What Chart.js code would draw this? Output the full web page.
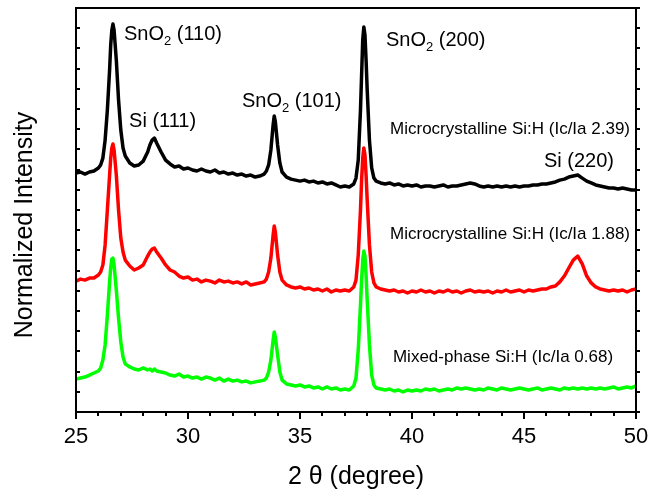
<!DOCTYPE html>
<html>
<head>
<meta charset="utf-8">
<script src="https://cdn.jsdelivr.net/npm/chart.js@4"></script>
<style>
  html, body { margin: 0; padding: 0; background: #fff; }
  #wrap { width: 649px; height: 489px; }
</style>
</head>
<body>
<div id="wrap"><canvas id="xrdChart" width="649" height="489"></canvas></div>
<script>
// 2 theta (degree), shared by the three patterns
const twoTheta = [
    25.0, 25.2, 25.4, 25.6, 25.8, 26.0, 26.1, 26.2, 26.3, 26.4, 26.5, 26.55, 26.6, 26.65, 26.7, 26.8, 26.9, 27.0, 27.1, 27.2,
    27.4, 27.6, 27.8, 28.0, 28.2, 28.3, 28.4, 28.5, 28.6,
    28.8, 29.0, 29.2, 29.4, 29.6, 29.8, 30.0, 30.2, 30.4, 30.6, 30.8, 31.0, 31.2, 31.4, 31.6, 31.8, 32.0, 32.2, 32.4, 32.6, 32.8, 33.0, 33.2, 33.4,
    33.5, 33.6, 33.7, 33.8, 33.85, 33.9, 34.0, 34.1, 34.2,
    34.4, 34.6, 34.8, 35.0, 35.2, 35.4, 35.6, 35.8, 36.0, 36.2, 36.4, 36.6, 36.8, 37.0, 37.2, 37.4,
    37.5, 37.6, 37.7, 37.75, 37.8, 37.85, 37.9, 37.95, 38.0, 38.1, 38.2, 38.3, 38.4,
    38.6, 38.8, 39.0, 39.2, 39.4, 39.6, 39.8, 40.0, 40.2, 40.4, 40.6, 40.8, 41.0, 41.2, 41.4, 41.6, 41.8, 42.0, 42.2, 42.4,
    42.6, 42.8, 43.0, 43.2, 43.4, 43.6, 43.8, 44.0, 44.2, 44.4, 44.6, 44.8, 45.0, 45.2, 45.4, 45.6, 45.8, 46.0, 46.2, 46.4,
    46.6, 46.8, 47.0, 47.2, 47.4, 47.6, 47.8, 48.0, 48.2, 48.4, 48.6, 48.8, 49.0, 49.2, 49.4, 49.6, 49.8, 50.0
];

// Microcrystalline Si:H (Ic/Ia 2.39) - black
const micro239 = [
    11.83, 11.88, 11.78, 11.88, 11.93, 12.08, 12.23, 12.57, 13.46, 14.95, 16.93, 18.17, 18.91, 19.21, 18.91, 17.42, 15.44, 13.96, 13.07, 12.67,
    12.33, 12.18, 12.23, 12.42, 12.87, 13.22, 13.46, 13.56, 13.32,
    12.87, 12.47, 12.28, 12.13, 12.18, 12.03, 12.08, 11.98, 11.93, 12.03, 11.93, 11.88, 11.98, 11.83, 11.88, 11.78, 11.83, 11.73, 11.78, 11.68, 11.73, 11.63, 11.68, 11.78,
    11.93, 12.23, 12.97, 14.21, 14.65, 14.36, 13.22, 12.33, 11.88,
    11.63, 11.53, 11.48, 11.43, 11.48, 11.39, 11.43, 11.34, 11.39, 11.29, 11.34, 11.24, 11.14, 11.19, 11.14, 11.29,
    11.58, 12.47, 14.95, 16.68, 18.41, 19.06, 18.66, 17.42, 15.94, 13.46, 12.08, 11.58, 11.43,
    11.34, 11.29, 11.34, 11.24, 11.29, 11.19, 11.24, 11.19, 11.24, 11.14, 11.19, 11.19, 11.14, 11.19, 11.24, 11.14, 11.19, 11.19, 11.24, 11.29,
    11.34, 11.29, 11.19, 11.14, 11.19, 11.14, 11.19, 11.14, 11.19, 11.14, 11.19, 11.14, 11.19, 11.19, 11.24, 11.24, 11.29, 11.29, 11.34, 11.39,
    11.48, 11.53, 11.63, 11.68, 11.73, 11.58, 11.43, 11.34, 11.24, 11.19, 11.14, 11.09, 11.09, 11.04, 11.09, 11.04, 10.99, 10.99
];

// Microcrystalline Si:H (Ic/Ia 1.88) - red
const micro188 = [
    6.48, 6.58, 6.53, 6.63, 6.63, 6.78, 6.93, 7.28, 8.27, 10.00, 11.73, 12.57, 13.07, 13.27, 12.97, 11.73, 10.00, 8.61, 7.92, 7.52,
    7.23, 7.03, 7.13, 7.28, 7.72, 7.92, 8.07, 8.12, 7.92,
    7.62, 7.28, 7.03, 6.93, 6.73, 6.63, 6.68, 6.53, 6.58, 6.44, 6.53, 6.48, 6.39, 6.53, 6.44, 6.48, 6.39, 6.44, 6.34, 6.44, 6.29, 6.34, 6.39, 6.44,
    6.58, 6.93, 7.62, 8.76, 9.21, 8.91, 7.77, 6.93, 6.53,
    6.29, 6.19, 6.14, 6.19, 6.09, 6.14, 6.04, 6.09, 5.99, 6.09, 5.94, 6.04, 5.99, 6.04, 5.99, 6.19,
    6.53, 7.77, 10.00, 11.48, 12.57, 13.07, 12.72, 11.73, 10.49, 8.27, 6.93, 6.39, 6.19,
    6.09, 6.04, 5.99, 6.04, 5.94, 5.99, 5.89, 5.99, 5.94, 6.04, 5.94, 5.99, 5.89, 5.99, 5.94, 6.04, 5.94, 5.99, 5.89, 5.99,
    6.04, 5.94, 5.99, 5.94, 5.99, 5.89, 5.99, 5.94, 6.04, 5.94, 5.99, 6.04, 5.94, 6.04, 5.99, 6.04, 6.09, 6.09, 6.19, 6.24,
    6.44, 6.73, 7.13, 7.52, 7.72, 7.33, 6.73, 6.39, 6.19, 6.09, 6.04, 5.99, 6.04, 5.99, 6.04, 5.94, 6.04, 6.09
];

// Mixed-phase Si:H (Ic/Ia 0.68) - green
const mixed068 = [
    1.63, 1.68, 1.73, 1.83, 1.93, 2.03, 2.18, 2.57, 3.32, 4.80, 6.44, 7.13, 7.57, 7.62, 7.28, 6.04, 4.65, 3.47, 2.72, 2.38,
    2.23, 2.13, 2.08, 2.18, 2.08, 2.13, 2.03, 2.13, 2.03,
    1.98, 1.93, 1.83, 1.78, 1.88, 1.73, 1.78, 1.68, 1.73, 1.63, 1.73, 1.68, 1.58, 1.68, 1.53, 1.63, 1.53, 1.58, 1.49, 1.53, 1.44, 1.49, 1.53, 1.58,
    1.68, 1.98, 2.57, 3.56, 3.96, 3.71, 2.82, 1.98, 1.58,
    1.39, 1.34, 1.29, 1.34, 1.24, 1.29, 1.19, 1.24, 1.14, 1.24, 1.14, 1.19, 1.09, 1.14, 1.09, 1.29,
    1.68, 3.07, 5.30, 6.53, 7.52, 7.97, 7.72, 6.78, 5.54, 3.32, 1.83, 1.34, 1.19,
    1.14, 1.09, 1.14, 1.04, 1.09, 0.99, 1.09, 1.04, 1.09, 1.04, 1.14, 1.09, 1.14, 1.04, 1.09, 1.14, 1.09, 1.19, 1.14, 1.19,
    1.14, 1.09, 1.14, 1.09, 1.19, 1.14, 1.09, 1.19, 1.14, 1.09, 1.14, 1.19, 1.14, 1.09, 1.14, 1.19, 1.09, 1.14, 1.19, 1.14,
    1.09, 1.19, 1.14, 1.19, 1.14, 1.19, 1.14, 1.19, 1.14, 1.19, 1.14, 1.19, 1.24, 1.14, 1.19, 1.24, 1.19, 1.29
];

const xTicks = [25, 30, 35, 40, 45, 50];

// peak labels: [main, subscript, rest, x, y]
const peakLabels = [
    ["SnO", "2", " (110)", 27.14, 18.42],
    ["Si (111)", "", "", 27.37, 14.11],
    ["SnO", "2", " (101)", 32.41, 15.10],
    ["SnO", "2", " (200)", 38.84, 18.12],
    ["Si (220)", "", "", 45.89, 12.13]
];

const sampleLabels = [
    ["Microcrystalline Si:H (Ic/Ia 2.39)", 39.02, 13.76],
    ["Microcrystalline Si:H (Ic/Ia 1.88)", 39.02, 8.56],
    ["Mixed-phase Si:H (Ic/Ia 0.68)", 39.15, 2.48]
];

[micro239, micro188, mixed068].forEach(s => {
    if (s.length !== twoTheta.length) throw new Error("length mismatch " + s.length + " vs " + twoTheta.length);
});

const FONT = "'Liberation Sans', Arial, sans-serif";

function toPoints(values) {
    return twoTheta.map((x, i) => ({ x: x, y: values[i] }));
}

// frame, tick marks, titles and peak labels
const decorPlugin = {
    id: "decor",
    afterDatasetsDraw(chart) {
        const ctx = chart.ctx;
        const area = chart.chartArea;
        const xs = chart.scales.x;
        const ys = chart.scales.y;
        ctx.save();
        ctx.strokeStyle = "#000";
        ctx.lineWidth = 2;

        // bottom ticks (outward)
        for (let v = 25; v <= 50; v++) {
            const px = Math.round(xs.getPixelForValue(v));
            const len = v % 5 === 0 ? 7 : 4;
            ctx.beginPath();
            ctx.moveTo(px, area.bottom);
            ctx.lineTo(px, area.bottom + len);
            ctx.stroke();
        }
        // left ticks (inward) and right ticks (outward)
        for (let v = 0; v <= 20; v++) {
            const py = Math.round(ys.getPixelForValue(v));
            ctx.beginPath();
            ctx.moveTo(area.left, py);
            ctx.lineTo(area.left + 4, py);
            ctx.moveTo(area.right, py);
            ctx.lineTo(area.right + 4, py);
            ctx.stroke();
        }
        ctx.strokeRect(area.left, area.top, area.right - area.left, area.bottom - area.top);

        // peak labels
        ctx.fillStyle = "#000";
        ctx.textBaseline = "alphabetic";
        ctx.textAlign = "left";
        peakLabels.forEach(([main, sub, rest, x, y]) => {
            let px = xs.getPixelForValue(x);
            const py = ys.getPixelForValue(y);
            ctx.font = "20px " + FONT;
            ctx.fillText(main, px, py);
            px += ctx.measureText(main).width;
            if (sub) {
                ctx.font = "13px " + FONT;
                ctx.fillText(sub, px, py + 5);
                px += ctx.measureText(sub).width;
                ctx.font = "20px " + FONT;
                ctx.fillText(rest, px, py);
            }
        });

        ctx.font = "17px " + FONT;
        sampleLabels.forEach(([text, x, y]) => {
            ctx.fillText(text, xs.getPixelForValue(x), ys.getPixelForValue(y));
        });

        // axis titles
        ctx.textAlign = "center";
        ctx.textBaseline = "middle";
        ctx.font = "25px " + FONT;
        ctx.fillText("2 \u03b8 (degree)", (area.left + area.right) / 2, 477);
        ctx.save();
        ctx.translate(25, 225);
        ctx.rotate(-Math.PI / 2);
        ctx.font = "25px " + FONT;
        ctx.fillText("Normalized Intensity", 0, 0);
        ctx.restore();

        ctx.restore();
    }
};

new Chart(document.getElementById("xrdChart"), {
    type: "line",
    data: {
        datasets: [
            { label: "2.39", data: toPoints(micro239), borderColor: "#000000", order: 3 },
            { label: "1.88", data: toPoints(micro188), borderColor: "#ff0000", order: 2 },
            { label: "0.68", data: toPoints(mixed068), borderColor: "#00ff00", order: 1 }
        ]
    },
    options: {
        responsive: false,
        animation: false,
        devicePixelRatio: 1,
        parsing: false,
        elements: {
            line: { borderWidth: 3.5, tension: 0, borderJoinStyle: "round" },
            point: { radius: 0 }
        },
        layout: { padding: { left: 0, right: 13, top: 8, bottom: 0 } },
        plugins: { legend: { display: false }, tooltip: { enabled: false } },
        scales: {
            x: {
                type: "linear",
                min: 25,
                max: 50,
                afterBuildTicks: s => { s.ticks = xTicks.map(v => ({ value: v })); },
                ticks: {
                    color: "#000",
                    font: { family: FONT, size: 22 },
                    padding: 12,
                    maxRotation: 0
                },
                grid: { display: false, drawTicks: false },
                border: { display: false },
                afterFit: s => { s.height = 77; s.paddingLeft = 0; s.paddingRight = 0; }
            },
            y: {
                type: "linear",
                min: 0,
                max: 20,
                ticks: { display: false },
                grid: { display: false, drawTicks: false },
                border: { display: false },
                afterFit: s => { s.width = 76; }
            }
        }
    },
    plugins: [decorPlugin]
});
</script>
</body>
</html>
